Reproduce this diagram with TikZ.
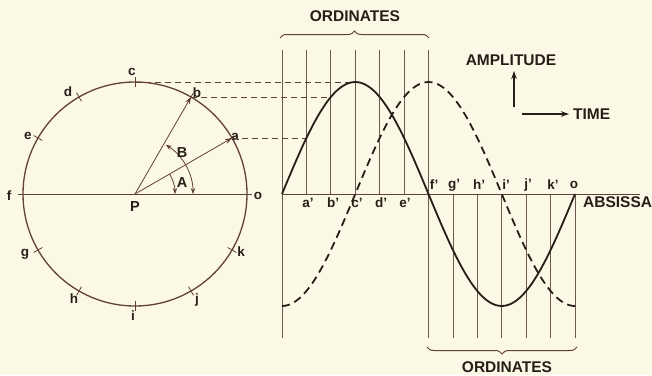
\documentclass[tikz,border=0pt]{standalone}
\usepackage{fontspec}
\setmainfont{Liberation Sans}
\usetikzlibrary{decorations.pathreplacing,arrows.meta}
\definecolor{bg}{RGB}{252,248,230}
\definecolor{ink}{RGB}{40,30,24}
\definecolor{brn}{RGB}{98,64,50}
\definecolor{ordc}{RGB}{110,88,75}
\begin{document}
\begin{tikzpicture}[x=1pt,y=-1pt,
  lbl/.style={font=\bfseries\fontsize{13.5}{13.5}\selectfont, text=ink, inner sep=0pt},
  biglbl/.style={font=\bfseries\fontsize{14.5}{14.5}\selectfont, text=ink, inner sep=0pt},
  captext/.style={font=\bfseries\fontsize{15.5}{16}\selectfont, text=ink, inner sep=0pt},
  ordline/.style={draw=ordc, line width=0.7pt},
  axisline/.style={draw=brn, line width=0.9pt},
  proj/.style={draw=brn, line width=1pt, dash pattern=on 6pt off 4pt},
  wave/.style={draw=ink, line width=1.8pt},
  wavedash/.style={draw=ink, line width=1.8pt, dash pattern=on 8pt off 5pt},
  circtick/.style={draw=brn, line width=0.8pt},
  radius line/.style={draw=brn, line width=0.8pt, -{Stealth[length=7pt,width=5pt]}},
  anglearc/.style={draw=brn, line width=0.8pt},
  bracestyle/.style={draw=brn, line width=1pt, decorate, decoration={brace, amplitude=7pt}},
  dirarrow/.style={draw=ink, line width=1.1pt, -{Stealth[length=8pt,width=5.5pt]}}
]
\fill[bg] (0,0) rectangle (652,375);
\useasboundingbox (0,0) rectangle (652,375);

% ---------- circle ----------
\coordinate (P) at (135,194);
\draw[brn, line width=1.3pt] (P) circle[radius=112];
\foreach \n/\ang in {o/0,a/30,b/60,c/90,d/120,e/150,f/180,g/210,h/240,i/270,j/300,k/330}{
  \path (P) ++(-\ang:112) coordinate (\n);
  \draw[circtick] (P) ++(-\ang:107) -- ++(-\ang:10);
}
\draw[axisline] (f) -- (o);
\draw[radius line] (P) -- (a);
\draw[radius line] (P) -- (b);
\draw[anglearc, -{Stealth[length=6pt,width=4.5pt]}] (P) ++(-30:40) arc[start angle=-30, end angle=0, radius=40];
\draw[anglearc, {Stealth[length=6pt,width=4.5pt]}-{Stealth[length=6pt,width=4.5pt]}] (P) ++(-58:58) arc[start angle=-58, end angle=0, radius=58];

\node[lbl] (la) at (235,137) {a};
\node[lbl] (lb) at (197,93) {b};
\node[lbl] (lc) at (132,72) {c};
\node[lbl] (ld) at (68,92) {d};
\node[lbl] (le) at (28,136) {e};
\node[lbl] (lf) at (9,196) {f};
\node[lbl] (lo) at (258,196) {o};
\node[lbl] (lg) at (25,254) {g};
\node[lbl] (lh) at (74,299) {h};
\node[lbl] (li) at (133,316) {i};
\node[lbl] (lj) at (197,300) {j};
\node[lbl] (lk) at (241,252) {k};
\node[biglbl] (lP) at (135,207) {P};
\node[biglbl] (lA) at (182,183) {A};
\node[biglbl] (lB) at (182,153) {B};

% ---------- wave side ----------
\def\dx{24.4167}
\foreach \k in {0,...,6}{
  \draw[ordline] ({282+\dx*\k},50) -- ({282+\dx*\k},194);
}
\foreach \k in {6,...,12}{
  \draw[ordline] ({282+\dx*\k},194) -- ({282+\dx*\k},338);
}
\draw[ordline] (282,194) -- (282,338);
\coordinate (ax0) at (282,194);
\coordinate (ax1) at (640,194);
\draw[axisline] (ax0) -- (ax1);

% projections
\coordinate (wa) at ({282+\dx},{194-112*sin(30)});
\coordinate (wb) at ({282+2*\dx},{194-112*sin(60)});
\coordinate (wc) at ({282+3*\dx},82);
\draw[proj] (a) -- (wa);
\draw[proj] (b) -- (wb);
\draw[proj] (c) -- (wc);

% waves
\draw[wave] plot[domain=0:360, samples=97, smooth] ({282+0.813889*\x},{194-112*sin(\x)});
\draw[wavedash] plot[domain=0:360, samples=97, smooth] ({282+0.813889*\x},{194+112*cos(\x)});

% axis labels
\node[lbl] (a1) at (308,203) {a'};
\node[lbl] (b1) at (333,203) {b'};
\node[lbl] (c1) at (357,203) {c'};
\node[lbl] (d1) at (381,203) {d'};
\node[lbl] (e1) at (405,203) {e'};
\node[lbl] (f1) at (434,185) {f'};
\node[lbl] (g1) at (454,185) {g'};
\node[lbl] (h1) at (479,185) {h'};
\node[lbl] (i1) at (506,185) {i'};
\node[lbl] (j1) at (528,185) {j'};
\node[lbl] (k1) at (553,185) {k'};
\node[lbl] (o1) at (574,185) {o};

% braces
\draw[bracestyle] (280,38) -- (429,38);
\draw[bracestyle] (577,347) -- (427,347);
\node[captext] (ordtop) at (355,16) {ORDINATES};
\node[captext] (ordbot) at (507,367) {ORDINATES};
\node[captext, anchor=west] (abs) at (583,202) {ABSISSA};

% amplitude / time
\node[captext] (amp) at (511,60) {AMPLITUDE};
\coordinate (ampfoot) at (514,107);
\coordinate (amptip) at (514,71);
\draw[dirarrow] (ampfoot) -- (amptip);
\node[captext, anchor=west] (time) at (573,114) {TIME};
\coordinate (timefoot) at (522,114);
\draw[dirarrow] (timefoot) -- ([xshift=-4pt]time.west);
\end{tikzpicture}
\end{document}
